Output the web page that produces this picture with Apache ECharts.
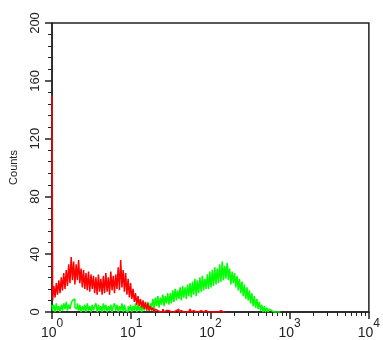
<!DOCTYPE html>
<html lang="en">
<head>
    <meta charset="UTF-8">
    <title>Histogram</title>
    <script src="https://cdn.jsdelivr.net/npm/echarts@6/dist/echarts.min.js"></script>
    <style>
        *{margin:0;padding:0;}
        #main{width:383px;height:340px;background:#fff;}
    </style>
</head>
<body>
    <div id="main"></div>
    <script>
        // histogram bins: 64 channels per decade, starting at 10^0
        var binsPerDecade = 64
        var decadeTicks = [0, 1, 2, 3, 4]
        var yTicks = [0, 40, 80, 120, 160, 200]

        var redCounts = [
            150,
            8, 18, 10, 20, 12, 22, 13, 24, 15, 27, 16, 29, 18,
            33, 20, 38, 22, 35, 19, 33, 22, 36, 20,
            30, 17, 29, 16, 27, 15, 28, 14, 26, 16,
            25, 13, 24, 12, 26, 14, 23, 12, 25, 13, 27, 14, 24, 12, 28, 15, 25, 13, 26,
            16, 31, 15, 36, 17, 29, 14, 27,
            12, 23, 10, 20, 9,
            16, 7, 13, 5, 11, 4, 9,
            3, 8, 2, 7, 1, 6, 1, 4,
            1, 3, 0, 2, 1, 2, 0,
            1, 0, 2, 0, 1, 0, 1, 2, 0, 1, 0, 0, 1, 0, 2, 0, 1, 0, 0, 1, 0, 1, 0, 0, 2, 0,
            1, 0, 0, 1, 0, 0, 1, 0, 0, 0, 1, 0, 0, 1, 0, 0, 0, 1, 0, 0, 0, 0, 1, 0, 0, 0, 0
        ]

        var greenCounts = [
            5,
            1, 5, 0, 6, 1, 4, 0, 5, 1, 6, 2, 7, 1, 5, 2, 6, 8, 9, 3, 2, 6, 1, 5, 0, 4, 1, 5, 0, 6, 1,
            4, 0, 5, 1, 4, 6, 0, 5, 1, 4, 0, 6, 1, 5, 0, 4, 1, 5, 0, 4, 6, 1, 5, 0, 4, 1, 6, 0, 5, 1,
            0, 4, 1, 5, 0, 4, 1, 6, 0, 5, 1, 4, 0, 5, 1, 6, 2, 7, 1, 6,
            3, 9, 2, 10, 4, 11, 3, 10, 5, 12, 4, 11, 6, 13, 5,
            13, 6, 15, 7, 16, 8, 15, 9, 17, 8, 18, 10, 17, 9, 19,
            11, 20, 10, 21, 12, 23, 11, 22, 13, 24, 14, 25, 15, 23, 16,
            26, 16, 28, 17, 29, 18, 31, 19, 30, 20,
            33, 21, 35, 22, 32, 23, 34,
            22, 30, 19, 28, 20, 27, 17, 25,
            15, 23, 13, 21, 11, 19, 9, 17, 8, 15,
            6, 13, 4, 11, 3, 9, 2, 7, 1, 5,
            0, 4, 0, 3, 0, 2, 1, 2, 0, 1,
            0, 1, 0, 0, 0
        ]

        function toPoints(counts){
            var pts = []
            for (var i = 0; i < counts.length; i++){
                pts.push([i / binsPerDecade, counts[i]])
            }
            return pts
        }

        // log minor tick positions (2..9 in each decade)
        var minorX = []
        for (var d = 0; d < 4; d++){
            for (var k = 2; k < 10; k++){
                minorX.push(d + Math.log10(k))
            }
        }

        var font = 'Liberation Sans, Arial, sans-serif'
        var myChart = echarts.init(document.getElementById('main'))
        var option = {
            animation: false,
            grid: {
                left: 48, right: 7, top: 23, bottom: 23,
                show: true, borderColor: '#222', borderWidth: 1.5,
                backgroundColor: 'transparent'
            },
            xAxis: [
                {
                    type: 'value',
                    min: 0, max: 4, interval: 1,
                    splitLine: {show: false},
                    axisLine: {lineStyle: {color: '#222', width: 1.5}},
                    axisTick: {length: 7, lineStyle: {color: '#222', width: 1.5}},
                    axisLabel: {
                        margin: 6,
                        fontFamily: font,
                        color: '#222',
                        customValues: decadeTicks,
                        formatter: function(v){ return '{b|10}{s|' + v + '}' },
                        rich: {
                            b: {fontSize: 14, fontFamily: font, color: '#222', verticalAlign: 'bottom', lineHeight: 22},
                            s: {fontSize: 12, fontFamily: font, color: '#222', verticalAlign: 'top', lineHeight: 22}
                        }
                    }
                },
                {
                    type: 'value',
                    min: 0, max: 4,
                    position: 'bottom',
                    splitLine: {show: false},
                    axisLine: {show: false},
                    axisLabel: {show: false},
                    axisTick: {length: 4, customValues: minorX, lineStyle: {color: '#222', width: 1}}
                }
            ],
            yAxis: {
                type: 'value',
                min: 0, max: 200, interval: 40,
                name: 'Counts',
                nameLocation: 'middle',
                nameGap: 33,
                nameTextStyle: {fontFamily: font, fontSize: 11, color: '#222'},
                splitLine: {show: false},
                axisLine: {show: true, lineStyle: {color: '#222', width: 1.5}},
                axisTick: {show: true, length: 7, lineStyle: {color: '#222', width: 1.5}},
                minorTick: {show: true, splitNumber: 5, length: 4, lineStyle: {color: '#222', width: 1}},
                axisLabel: {
                    rotate: 90,
                    margin: 10,
                    fontFamily: font,
                    fontSize: 13,
                    color: '#222',
                    customValues: yTicks
                }
            },
            series: [
                {
                    type: 'line',
                    data: toPoints(greenCounts),
                    step: 'middle',
                    symbol: 'none',
                    lineStyle: {color: '#00ff00', width: 1.5},
                    z: 2
                },
                {
                    type: 'line',
                    data: toPoints(redCounts),
                    step: 'middle',
                    symbol: 'none',
                    lineStyle: {color: '#ff0000', width: 1.5},
                    z: 3
                }
            ]
        }
        myChart.setOption(option)
    </script>
</body>
</html>
